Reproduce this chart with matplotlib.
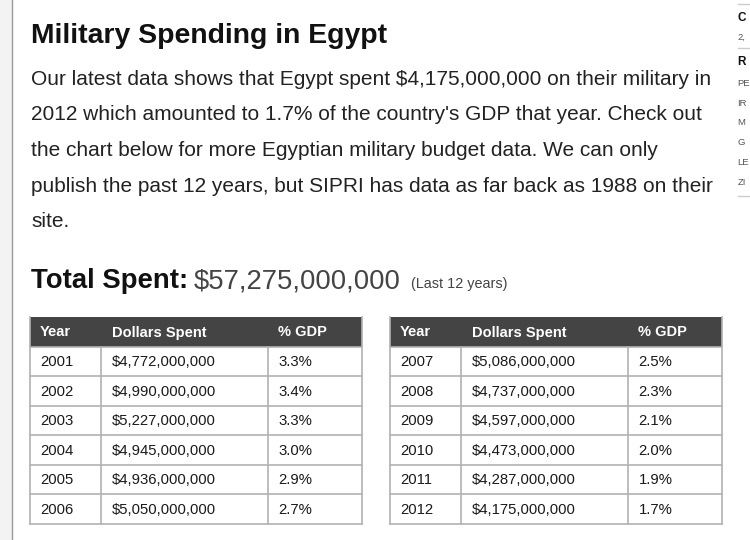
import matplotlib
matplotlib.use('Agg')
import matplotlib.pyplot as plt
from matplotlib.patches import Rectangle

plt.rcParams['font.family'] = ['Liberation Sans', 'DejaVu Sans']

# data
years = [2001, 2002, 2003, 2004, 2005, 2006, 2007, 2008, 2009, 2010, 2011, 2012]
dollars = [4772000000, 4990000000, 5227000000, 4945000000, 4936000000, 5050000000,
           5086000000, 4737000000, 4597000000, 4473000000, 4287000000, 4175000000]
gdp_pct = [3.3, 3.4, 3.3, 3.0, 2.9, 2.7, 2.5, 2.3, 2.1, 2.0, 1.9, 1.7]
headers = ['Year', 'Dollars Spent', '% GDP']

title = 'Military Spending in Egypt'
para = ["Our latest data shows that Egypt spent $4,175,000,000 on their military in",
        "2012 which amounted to 1.7% of the country's GDP that year. Check out",
        "the chart below for more Egyptian military budget data. We can only",
        "publish the past 12 years, but SIPRI has data as far back as 1988 on their",
        "site."]
# sidebar fragments, cut off by the page edge in the screenshot
sidebar = [('C', True), ('2,', False), ('R', True), ('PE', False), ('IR', False),
           ('M', False), ('G', False), ('LE', False), ('ZI', False)]

fig = plt.figure(figsize=(7.5, 5.4), dpi=100)
ax = fig.add_axes([0, 0, 1, 1])
ax.set_xlim(0, 750)
ax.set_ylim(540, 0)
ax.axis('off')

# left grey strip
ax.add_patch(Rectangle((0, 0), 11.5, 540, facecolor='#f3f3f3', edgecolor='none'))
ax.plot([11.7, 11.7], [0, 540], color='#9a9a9a', lw=1)

ax.text(31, 43, title, fontsize=20.4, fontweight='bold', color='#111111', va='baseline')

for i, line in enumerate(para):
    ax.text(31, 85 + i * 35.5, line, fontsize=15.0, color='#222222', va='baseline')

total = sum(dollars)
ax.text(31, 288, 'Total Spent:', fontsize=19.8, fontweight='bold', color='#111111', va='baseline')
ax.text(194, 288, '${:,}'.format(total), fontsize=19.8, color='#444444', va='baseline')
ax.text(411, 288, '(Last {} years)'.format(len(years)), fontsize=10.4, color='#444444', va='baseline')

# tables
col_edges = [[29.5, 101, 268, 361.5], [389.5, 461, 628, 721.5]]
top, head_h, row_h = 316.5, 30, 29.5
line_c = '#b2b2b2'
for t in range(2):
    xs = col_edges[t]
    idx = range(t * 6, t * 6 + 6)
    ax.add_patch(Rectangle((xs[0], top), xs[-1] - xs[0], head_h,
                           facecolor='#444444', edgecolor='none'))
    for c, h in enumerate(headers):
        ax.text(xs[c] + 10.5, top + head_h / 2 + 1, h, fontsize=10.5, fontweight='bold',
                color='white', va='center')
    y0 = top + head_h
    for r, k in enumerate(idx):
        yc = y0 + r * row_h + row_h / 2 + 1
        vals = [str(years[k]), '${:,}'.format(dollars[k]), '{:.1f}%'.format(gdp_pct[k])]
        for c, v in enumerate(vals):
            ax.text(xs[c] + 10.5, yc, v, fontsize=10.7, color='#1a1a1a', va='center')
    bottom = y0 + 6 * row_h
    for r in range(7):
        y = y0 + r * row_h
        ax.plot([xs[0], xs[-1]], [y, y], color=line_c, lw=1.2)
    for x in xs:
        ax.plot([x, x], [y0 if x not in (xs[0], xs[-1]) else top, bottom], color=line_c, lw=1.2)

# sidebar at the right edge
for y in [3.5, 48, 196]:
    ax.plot([738, 750], [y, y], color='#cccccc', lw=1)
side_y = [21, 40, 65, 86, 106, 125, 145, 165, 185]
for (s, b), y in zip(sidebar, side_y):
    ax.text(737.5, y, s, fontsize=8.5 if b else 6.8, fontweight='bold' if b else 'normal',
            color='#111111' if b else '#555555', va='baseline')

fig.savefig('out.png', dpi=100)
